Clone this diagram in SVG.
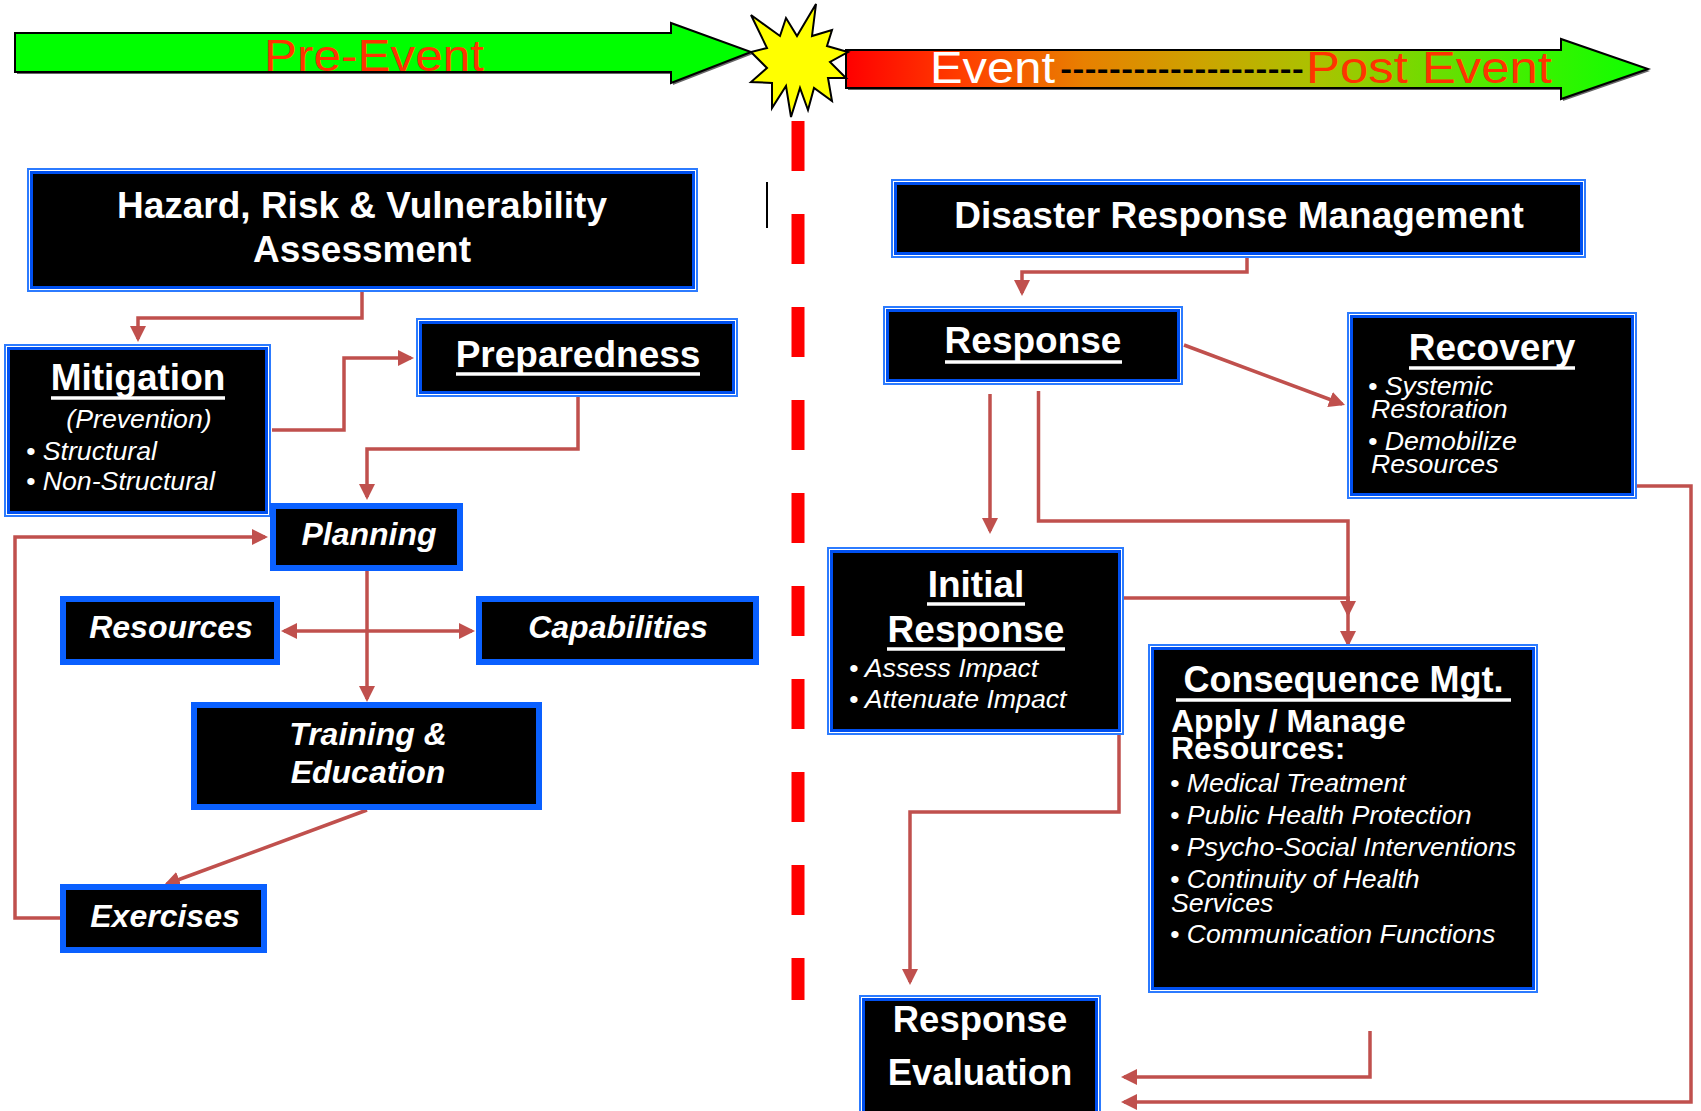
<svg xmlns="http://www.w3.org/2000/svg" width="1701" height="1111" viewBox="0 0 1701 1111">
<style>
.t{font-family:"Liberation Sans",Arial,sans-serif;fill:#fff}
.b37{font-size:37px;font-weight:bold;text-anchor:middle}
.bi{font-size:32px;font-weight:bold;font-style:italic;text-anchor:middle}
.it{font-size:26.7px;font-style:italic}
.ul{stroke:#fff;stroke-width:3.5}
.ao{fill:#fff;stroke:#2C7BFF;stroke-width:2}
.ai{fill:#000;stroke:#0050F0;stroke-width:3}
.bf{fill:#000;stroke:#0A60FF;stroke-width:6}
.conn path{fill:none;stroke:#C0504D;stroke-width:3.5}
.tl{font-family:"Liberation Sans",Arial,sans-serif;font-size:44px}
</style>
<defs>
<marker id="ah" markerUnits="userSpaceOnUse" viewBox="0 0 16 16" refX="13" refY="8" markerWidth="16" markerHeight="16" orient="auto-start-reverse">
<path d="M0,0 L16,8 L0,16 Z" fill="#C0504D"/>
</marker>
<linearGradient id="evg" gradientUnits="userSpaceOnUse" x1="846" y1="0" x2="1640" y2="0">
<stop offset="0" stop-color="#FF0000"/>
<stop offset="0.15" stop-color="#FF4000"/>
<stop offset="0.3" stop-color="#E88000"/>
<stop offset="0.45" stop-color="#CCA400"/>
<stop offset="0.6" stop-color="#A8C400"/>
<stop offset="0.85" stop-color="#40F000"/>
<stop offset="1" stop-color="#10FF00"/>
</linearGradient>
</defs>
<rect width="1701" height="1111" fill="#fff"/>

<g id="timeline">
<polygon points="17,35 673,35 673,25 753,54 673,85 673,74 17,74" fill="#666"/>
<polygon points="15,33 671,33 671,23 751,52 671,83 671,72 15,72" fill="#00FF00" stroke="#000" stroke-width="2"/>
<text class="tl" x="264" y="71" fill="#FF3300" textLength="220" lengthAdjust="spacingAndGlyphs">Pre-Event</text>
<polygon points="848,52 1563,52 1563,41 1650,71 1563,101 1563,90 848,90" fill="#666"/>
<polygon points="846,50 1561,50 1561,39 1648,69 1561,99 1561,88 846,88" fill="url(#evg)" stroke="#000" stroke-width="2"/>
<text class="tl" x="930" y="83" fill="#fff" textLength="125" lengthAdjust="spacingAndGlyphs">Event</text>
<text class="tl" x="1060" y="83" fill="#000" textLength="244" lengthAdjust="spacingAndGlyphs">--------------------</text>
<text class="tl" x="1306" y="83" fill="#FF3300" textLength="246" lengthAdjust="spacingAndGlyphs">Post Event</text>
<polygon points="816,4 812,36 832,30 827,46 848,52 830,62 846,78 828,78 832,101 814,88 808,110 800,88 791,117 786,86 772,108 772,83 751,82 767,68 751,52 767,48 751,15 780,36 786,18 797,36" fill="#FFFF00" stroke="#000" stroke-width="2"/>
<line x1="798" y1="121" x2="798" y2="1000" stroke="#FF0000" stroke-width="13" stroke-dasharray="50 43"/>
<line x1="767" y1="182" x2="767" y2="228" stroke="#000" stroke-width="2"/>
</g>

<g class="conn" id="connectors">
<path d="M362,292 V318 H138 V339" marker-end="url(#ah)"/>
<path d="M272,430 H344 V358 H411" marker-end="url(#ah)"/>
<path d="M578,397 V449 H367 V497" marker-end="url(#ah)"/>
<path d="M367,571 V699" marker-end="url(#ah)"/>
<path d="M284,631 H472" marker-start="url(#ah)" marker-end="url(#ah)"/>
<path d="M367,810 L166.8,884" marker-end="url(#ah)"/>
<path d="M60,918 H15 V537 H265" marker-end="url(#ah)"/>
<path d="M1247,247 V272 H1022 V293" marker-end="url(#ah)"/>
<path d="M1184,345 L1342.2,404" marker-end="url(#ah)"/>
<path d="M990,394 V531" marker-end="url(#ah)"/>
<path d="M1038.5,391 V521 H1348 V644" marker-end="url(#ah)"/>
<path d="M1119,598 H1348 V614" marker-end="url(#ah)"/>
<path d="M1119,583 V812 H910 V982" marker-end="url(#ah)"/>
<path d="M1370,1031 V1077 H1124" marker-end="url(#ah)"/>
<path d="M1637,486 H1691 V1102 H1124" marker-end="url(#ah)"/>
</g>

<g id="hazard">
<rect class="ao" x="28" y="169" width="669" height="122"/>
<rect class="ai" x="31.5" y="172.5" width="662" height="115"/>
<text class="t b37" x="362" y="218">Hazard, Risk &amp; Vulnerability</text>
<text class="t b37" x="362" y="262">Assessment</text>
</g>

<g id="mitigation">
<rect class="ao" x="5" y="345" width="265" height="171"/>
<rect class="ai" x="8.5" y="348.5" width="258" height="164"/>
<text class="t b37" x="138" y="390">Mitigation</text>
<line class="ul" x1="51" y1="398" x2="225" y2="398"/>
<text class="t it" x="139" y="428" text-anchor="middle">(Prevention)</text>
<text class="t it" x="26" y="460">• Structural</text>
<text class="t it" x="26" y="490">• Non-Structural</text>
</g>

<g id="preparedness">
<rect class="ao" x="417" y="319" width="320" height="77"/>
<rect class="ai" x="420.5" y="322.5" width="313" height="70"/>
<text class="t b37" x="578" y="367">Preparedness</text>
<line class="ul" x1="456" y1="374" x2="700" y2="374"/>
</g>

<g id="planning">
<rect class="bf" x="273" y="506" width="187" height="62"/>
<text class="t bi" x="369" y="545">Planning</text>
</g>

<g id="resources">
<rect class="bf" x="63" y="599" width="214" height="63"/>
<text class="t bi" x="171" y="638">Resources</text>
</g>

<g id="capabilities">
<rect class="bf" x="479" y="599" width="277" height="63"/>
<text class="t bi" x="618" y="638">Capabilities</text>
</g>

<g id="training">
<rect class="bf" x="194" y="705" width="345" height="102"/>
<text class="t bi" x="368" y="745">Training &amp;</text>
<text class="t bi" x="368" y="783">Education</text>
</g>

<g id="exercises">
<rect class="bf" x="63" y="887" width="201" height="63"/>
<text class="t bi" x="165" y="927">Exercises</text>
</g>

<g id="drm">
<rect class="ao" x="892" y="180" width="693" height="77"/>
<rect class="ai" x="895.5" y="183.5" width="686" height="70"/>
<text class="t b37" x="1239" y="228">Disaster Response Management</text>
</g>

<g id="response">
<rect class="ao" x="884" y="307" width="298" height="77"/>
<rect class="ai" x="887.5" y="310.5" width="291" height="70"/>
<text class="t b37" x="1033" y="353">Response</text>
<line class="ul" x1="945" y1="362" x2="1122" y2="362"/>
</g>

<g id="recovery">
<rect class="ao" x="1348" y="313" width="288" height="185"/>
<rect class="ai" x="1351.5" y="316.5" width="281" height="178"/>
<text class="t b37" x="1492" y="360">Recovery</text>
<line class="ul" x1="1409" y1="368" x2="1575" y2="368"/>
<text class="t it" x="1368" y="395">• Systemic</text>
<text class="t it" x="1371" y="418">Restoration</text>
<text class="t it" x="1368" y="450">• Demobilize</text>
<text class="t it" x="1371" y="473">Resources</text>
</g>

<g id="initial-response">
<rect class="ao" x="828" y="548" width="295" height="186"/>
<rect class="ai" x="831.5" y="551.5" width="288" height="179"/>
<text class="t b37" x="976" y="597">Initial</text>
<line class="ul" x1="927" y1="604" x2="1025" y2="604"/>
<text class="t b37" x="976" y="642">Response</text>
<line class="ul" x1="887" y1="649" x2="1065" y2="649"/>
<text class="t it" x="849" y="677">• Assess Impact</text>
<text class="t it" x="849" y="708">• Attenuate Impact</text>
</g>

<g id="consequence">
<rect class="ao" x="1149" y="645" width="388" height="347"/>
<rect class="ai" x="1152.5" y="648.5" width="381" height="340"/>
<text class="t" x="1343.5" y="692" font-size="36" font-weight="bold" text-anchor="middle">Consequence Mgt.</text>
<line class="ul" x1="1176" y1="700" x2="1511" y2="700"/>
<text class="t" x="1171" y="732" font-size="32" font-weight="bold">Apply / Manage</text>
<text class="t" x="1171" y="759" font-size="32" font-weight="bold">Resources:</text>
<text class="t it" x="1170" y="792">• Medical Treatment</text>
<text class="t it" x="1170" y="824">• Public Health Protection</text>
<text class="t it" x="1170" y="856">• Psycho-Social Interventions</text>
<text class="t it" x="1170" y="888">• Continuity of Health</text>
<text class="t it" x="1171" y="912">Services</text>
<text class="t it" x="1170" y="943">• Communication Functions</text>
</g>

<g id="response-evaluation">
<rect class="ao" x="860" y="996" width="240" height="125"/>
<rect class="ai" x="863.5" y="999.5" width="233" height="118"/>
<text class="t" x="980" y="1032" font-size="36.5" font-weight="bold" text-anchor="middle">Response</text>
<text class="t" x="980" y="1085" font-size="36.5" font-weight="bold" text-anchor="middle">Evaluation</text>
</g>
</svg>
